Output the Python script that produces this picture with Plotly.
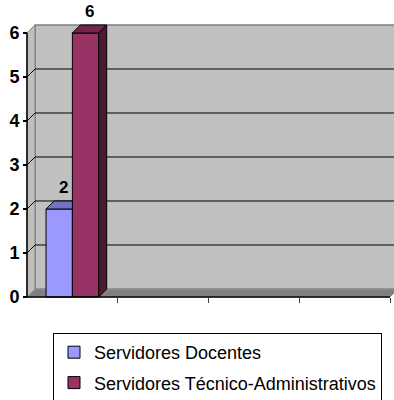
import plotly.graph_objects as go

# --- data -------------------------------------------------------------
series_names = ["Servidores Docentes", "Servidores Técnico-Administrativos"]
docentes = [2]
tecnicos = [6]
series_values = [docentes, tecnicos]
n_category_slots = 4
y_ticks = [0, 1, 2, 3, 4, 5, 6]

# --- style ------------------------------------------------------------
front_colors = ["#9999FF", "#993366"]
top_colors = ["#7373C4", "#73264D"]
side_colors = ["#5C5C99", "#4D1A33"]
WALL = "#C0C0C0"
WALL_EDGE = "#808080"
FLOOR = "#808080"
DX = 0.088      # depth offset along the category axis
DY = 0.182      # depth offset along the value axis
BAR_W = 0.29    # width of one bar in category units
FONT = "Liberation Sans, Arial, sans-serif"

x_lo, x_hi = -0.5, n_category_slots - 0.5
y_top = max(y_ticks)

fig = go.Figure()
shapes = []


def poly(xs, ys):
    return "M " + " L ".join(f"{x},{y}" for x, y in zip(xs, ys)) + " Z"


# back wall, side wall and floor
shapes.append(dict(type="path", layer="below", xref="x", yref="y",
                   path=poly([x_lo + DX, x_hi + DX, x_hi + DX, x_lo + DX],
                             [DY, DY, y_top + DY, y_top + DY]),
                   fillcolor=WALL, line=dict(color=WALL_EDGE, width=1.5)))
shapes.append(dict(type="path", layer="below", xref="x", yref="y",
                   path=poly([x_lo, x_lo + DX, x_lo + DX, x_lo],
                             [0, DY, y_top + DY, y_top]),
                   fillcolor=WALL, line=dict(color=WALL_EDGE, width=1)))
shapes.append(dict(type="path", layer="below", xref="x", yref="y",
                   path=poly([x_lo, x_hi, x_hi + DX, x_lo + DX], [0, 0, DY, DY]),
                   fillcolor=FLOOR, line=dict(color="#999999", width=1)))

# gridlines on the back wall plus their slanted leaders on the side wall
for t in y_ticks[1:-1]:
    shapes.append(dict(type="line", layer="below", xref="x", yref="y",
                       x0=x_lo + DX, x1=x_hi + DX, y0=t + DY, y1=t + DY,
                       line=dict(color="black", width=1)))
    shapes.append(dict(type="line", layer="below", xref="x", yref="y",
                       x0=x_lo, x1=x_lo + DX, y0=t, y1=t + DY,
                       line=dict(color="black", width=1)))
shapes.append(dict(type="line", layer="below", xref="x", yref="y",
                   x0=x_lo, x1=x_lo + DX, y0=y_top, y1=y_top + DY,
                   line=dict(color=WALL_EDGE, width=1)))

# axis lines
shapes.append(dict(type="line", layer="above", xref="x", yref="y",
                   x0=x_lo, x1=x_lo, y0=0, y1=y_top,
                   line=dict(color="black", width=1.5)))
shapes.append(dict(type="line", layer="above", xref="x", yref="y",
                   x0=x_lo, x1=x_hi, y0=0, y1=0,
                   line=dict(color="black", width=1.5)))

# bars: front faces as bar traces, top and side faces as filled polygons
n_series = len(series_values)
annotations = []
for i, (name, vals) in enumerate(zip(series_names, series_values)):
    offset = -n_series * BAR_W / 2 + i * BAR_W
    fig.add_trace(go.Bar(
        x=list(range(len(vals))), y=vals, width=BAR_W, offset=offset,
        name=name, legendgroup=f"g{i}",
        marker=dict(color=front_colors[i], line=dict(color="black", width=1)),
    ))
    for j, v in enumerate(vals):
        x0 = j + offset
        x1 = x0 + BAR_W
        # a taller neighbour on the right hides the side face and clips the top
        right = series_values[i + 1][j] if i + 1 < n_series and j < len(series_values[i + 1]) else None
        hidden = right is not None and right >= v
        if hidden:
            tx = [x0, x1, x1, x0 + DX, x0]
            ty = [v, v, v + DY, v + DY, v]
        else:
            tx = [x0, x1, x1 + DX, x0 + DX, x0]
            ty = [v, v, v + DY, v + DY, v]
            fig.add_trace(go.Scatter(
                x=[x1, x1 + DX, x1 + DX, x1, x1], y=[0, DY, v + DY, v, 0],
                fill="toself", fillcolor=side_colors[i], mode="lines",
                line=dict(color="black", width=1), showlegend=False, hoverinfo="skip"))
        fig.add_trace(go.Scatter(
            x=tx, y=ty, fill="toself", fillcolor=top_colors[i], mode="lines",
            line=dict(color="black", width=1), showlegend=False, hoverinfo="skip"))
        annotations.append(dict(
            x=x0 + BAR_W / 2 + DX / 2, y=v + DY, xref="x", yref="y",
            text=f"<b>{v}</b>", showarrow=False, yanchor="bottom", yshift=2,
            font=dict(family=FONT, size=17, color="black")))

# pixel geometry of the plotting area
L, R, T, B = 20, 0, 20, 100
W, H = 394, 400
px_per_cat = 90.75
px_per_val = 44.0
x_range = [x_lo - 7 / px_per_cat, x_lo + (W - L - R - 7) / px_per_cat]
y_range = [-3 / px_per_val, (H - T - B - 3) / px_per_val]

fig.update_layout(
    width=W, height=H,
    margin=dict(l=L, r=R, t=T, b=B, autoexpand=False),
    paper_bgcolor="white", plot_bgcolor="white",
    barmode="overlay",
    shapes=shapes,
    annotations=annotations,
    showlegend=True,
    legend=dict(
        xref="container", yref="container",
        x=53 / W, y=1 - 333 / H, xanchor="left", yanchor="top",
        bordercolor="black", borderwidth=1, bgcolor="white",
        font=dict(family=FONT, size=18, color="black"),
        traceorder="grouped", tracegroupgap=4, itemwidth=30,
    ),
    xaxis=dict(range=x_range, tickvals=[k + 0.5 for k in range(n_category_slots)],
               ticks="outside", ticklen=5, tickcolor="#404040", tickwidth=1,
               showticklabels=False, showgrid=False, zeroline=False, showline=False,
               anchor="free", position=3 / (H - T - B), fixedrange=True),
    yaxis=dict(range=y_range, tickvals=y_ticks, ticktext=[str(t) for t in y_ticks],
               ticks="outside", ticklen=4, tickcolor="black", tickwidth=1.5,
               tickfont=dict(family=FONT, size=18, color="black", weight="bold"),
               showgrid=False, zeroline=False, showline=False,
               anchor="free", position=7 / (W - L - R), fixedrange=True),
    font=dict(family=FONT, color="black"),
)

fig.write_html("out.html")
